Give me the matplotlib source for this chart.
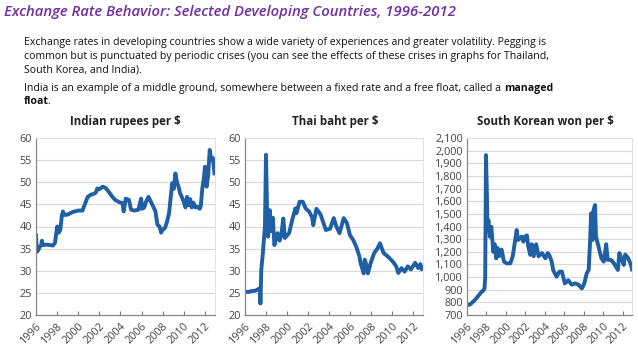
import matplotlib
matplotlib.use("Agg")
import matplotlib.pyplot as plt
from matplotlib.ticker import FuncFormatter
import matplotlib.transforms as mtransforms

# ---------------- data ----------------
india_years = [1996.00, 1996.08, 1996.2, 1996.35, 1996.5, 1996.56, 1996.65, 1997.0, 1997.3, 1997.6,
               1997.8, 1998.0, 1998.15, 1998.3, 1998.45, 1998.55, 1998.7, 1999.0, 1999.5, 2000.0,
               2000.4, 2000.7, 2000.9, 2001.2, 2001.5, 2001.7, 2001.8, 2002.0, 2002.3, 2002.6,
               2002.9, 2003.2, 2003.5, 2003.8, 2004.0, 2004.2, 2004.3, 2004.5, 2004.8, 2005.0,
               2005.3, 2005.7, 2005.95, 2006.05, 2006.25, 2006.4, 2006.65, 2006.9, 2007.1, 2007.3,
               2007.5, 2007.7, 2007.85, 2008.0, 2008.2, 2008.4, 2008.6, 2008.75, 2008.9, 2009.05,
               2009.2, 2009.35, 2009.5, 2009.65, 2009.8, 2010.0, 2010.15, 2010.3, 2010.45, 2010.6,
               2010.75, 2010.9, 2011.1, 2011.3, 2011.5, 2011.6, 2011.75, 2011.9, 2012.0, 2012.15,
               2012.3, 2012.45, 2012.6, 2012.75, 2012.9]
india_vals = [38.0, 34.3, 34.6, 35.4, 35.8, 36.8, 35.8, 35.9, 35.8, 35.7,
              36.3, 40.0, 38.6, 39.2, 42.5, 43.4, 42.6, 42.7, 43.3, 43.6,
              43.6, 45.5, 46.7, 47.2, 47.4, 47.8, 48.6, 48.4, 49.0, 48.7,
              47.8, 46.8, 46.0, 45.6, 45.4, 45.3, 43.4, 46.3, 46.0, 43.8,
              43.6, 43.8, 46.3, 44.0, 44.3, 45.5, 46.7, 45.5, 44.5, 43.5,
              40.4, 40.0, 38.6, 39.3, 39.6, 41.0, 43.0, 46.5, 49.8, 48.5,
              52.0, 50.0, 49.0, 47.5, 46.7, 45.5, 44.3, 46.7, 44.8, 46.2,
              44.3, 45.4, 44.3, 44.5, 44.0, 44.6, 48.6, 51.0, 53.5, 49.0,
              51.5, 57.3, 55.0, 55.5, 52.0]

thai_years = [1996.0, 1996.3, 1996.6, 1997.0, 1997.3, 1997.42, 1997.47, 1997.55, 1997.7, 1997.8,
              1997.9, 1998.0, 1998.1, 1998.2, 1998.35, 1998.5, 1998.65, 1998.8, 1999.1, 1999.3,
              1999.45, 1999.65, 1999.8, 2000.2, 2000.5, 2000.8, 2000.9, 2001.2, 2001.5, 2001.8,
              2002.1, 2002.4, 2002.5, 2002.8, 2003.2, 2003.7, 2004.1, 2004.45, 2004.7, 2005.0,
              2005.4, 2005.7, 2006.0, 2006.3, 2006.6, 2006.9, 2007.0, 2007.3, 2007.4, 2007.6,
              2007.7, 2008.0, 2008.3, 2008.6, 2008.85, 2009.2, 2009.7, 2010.1, 2010.4, 2010.6,
              2010.9, 2011.2, 2011.5, 2011.8, 2012.2, 2012.5, 2012.7, 2012.85]
thai_vals = [25.3, 25.2, 25.4, 25.5, 25.9, 26.0, 22.6, 30.2, 34.0, 37.0,
             40.0, 56.2, 43.7, 37.7, 43.7, 39.0, 42.0, 35.8, 38.5, 36.8,
             38.0, 41.8, 37.4, 38.5, 41.5, 44.1, 43.0, 45.6, 45.6, 44.0,
             43.4, 42.0, 40.3, 44.0, 42.7, 39.2, 39.5, 41.9, 40.0, 38.5,
             41.9, 40.8, 38.0, 37.0, 35.4, 33.2, 31.8, 29.4, 32.5, 31.0,
             29.4, 32.0, 34.0, 35.0, 36.2, 34.0, 33.0, 32.0, 31.0, 29.5,
             30.6, 29.8, 31.0, 30.3, 31.8, 30.6, 31.5, 30.4]

korea_years = [1996.0, 1996.3, 1996.8, 1997.1, 1997.5, 1997.65, 1997.8, 1997.87, 1997.95, 1998.05,
               1998.1, 1998.2, 1998.35, 1998.5, 1998.7, 1998.85, 1999.0, 1999.15, 1999.3, 1999.55,
               1999.8, 2000.1, 2000.45, 2000.7, 2000.95, 2001.1, 2001.25, 2001.6, 2001.8, 2001.95,
               2002.15, 2002.3, 2002.5, 2002.65, 2002.85, 2003.1, 2003.35, 2003.7, 2004.05, 2004.3,
               2004.5, 2004.7, 2004.85, 2005.2, 2005.5, 2005.75, 2006.05, 2006.4, 2006.75, 2007.1,
               2007.45, 2007.8, 2008.05, 2008.3, 2008.5, 2008.65, 2008.75, 2008.9, 2009.0, 2009.15,
               2009.25, 2009.45, 2009.8, 2010.05, 2010.3, 2010.45, 2010.8, 2011.1, 2011.5, 2011.65,
               2011.85, 2012.1, 2012.25, 2012.55, 2012.85, 2012.95]
korea_vals = [780, 782, 818, 845, 884, 890, 910, 1003, 1965, 1636,
              1372, 1450, 1319, 1398, 1200, 1260, 1148, 1230, 1165, 1217,
              1122, 1108, 1108, 1165, 1293, 1372, 1293, 1320, 1280, 1320,
              1330, 1240, 1175, 1260, 1165, 1260, 1165, 1190, 1148, 1190,
              1165, 1122, 1056, 1003, 1043, 1043, 950, 975, 940, 950,
              940, 910, 950, 1030, 1056, 1293, 1504, 1293, 1530, 1570,
              1320, 1260, 1150, 1122, 1260, 1136, 1136, 1108, 1056, 1190,
              1150, 1096, 1178, 1150, 1096, 1060]

year_ticks = [1996, 1998, 2000, 2002, 2004, 2006, 2008, 2010, 2012]
panel_titles = ["Indian rupees per $", "Thai baht per $", "South Korean won per $"]
title_text = "Exchange Rate Behavior: Selected Developing Countries, 1996-2012"
body_lines = [
    "Exchange rates in developing countries show a wide variety of experiences and greater volatility. Pegging is",
    "common but is punctuated by periodic crises (you can see the effects of these crises in graphs for Thailand,",
    "South Korea, and India).",
]

# ---------------- figure ----------------
W, H = 638, 359
fig = plt.figure(figsize=(W / 100, H / 100), dpi=100)
fig.patch.set_facecolor("white")

def fx(px):
    return px / W

def fy(py):
    return 1 - py / H

fam = ["Open Sans", "DejaVu Sans"]
fig.text(fx(4), fy(12), title_text, fontsize=10.7, style="italic", color="#7030a0",
         family=fam, va="center", ha="left", fontweight="semibold")
for i, line in enumerate(body_lines):
    fig.text(fx(24), fy(42 + 14 * i), line, fontsize=7.6, color="#111111",
             family=fam, va="center", ha="left")
t1 = fig.text(fx(24), fy(88),
              "India is an example of a middle ground, somewhere between a fixed rate and a free float, called a ",
              fontsize=7.6, color="#111111", family=fam, va="center", ha="left")
t2 = fig.text(fx(24), fy(101), "float", fontsize=7.6, color="#111111", family=fam,
              va="center", ha="left", fontweight="bold")
fig.canvas.draw()
bb = t1.get_window_extent()
fig.text(bb.x1 / W, fy(88), "managed", fontsize=7.6, color="#111111", family=fam,
         va="center", ha="left", fontweight="bold")
bb2 = t2.get_window_extent()
fig.text((bb2.x1 - 1.5) / W, fy(101), ".", fontsize=7.6, color="#111111", family=fam,
         va="center", ha="left")

panels = [
    (36, 215, india_years, india_vals, (20, 60), list(range(20, 61, 5)), False, 125),
    (245, 423, thai_years, thai_vals, (20, 60), list(range(20, 61, 5)), False, 335),
    (467, 632, korea_years, korea_vals, (700, 2100), list(range(700, 2101, 100)), True, 545),
]
top, bottom = 138, 315
blue = "#1f5fa6"
offset = mtransforms.ScaledTranslation(4 / 100, 0, fig.dpi_scale_trans)
for (l, r, xs, ys, ylim, yt, comma, tcx), ttl in zip(panels, panel_titles):
    ax = fig.add_axes([fx(l), fy(bottom), (r - l) / W, (bottom - top) / H])
    ax.plot(xs, ys, color=blue, lw=2.8, solid_joinstyle="round")
    ax.set_xlim(1996, 2012.95)
    ax.set_ylim(*ylim)
    ax.set_yticks(yt)
    ax.set_xticks(year_ticks)
    ax.set_xticklabels([str(y) for y in year_ticks], rotation=45, ha="right",
                       rotation_mode="anchor", fontsize=7.8, color="#444444", family=fam)
    for lab in ax.get_xticklabels():
        lab.set_transform(lab.get_transform() + offset)
    if comma:
        ax.yaxis.set_major_formatter(FuncFormatter(lambda v, p: f"{int(v):,}"))
    for lab in ax.get_yticklabels():
        lab.set_fontsize(7.8)
        lab.set_color("#444444")
        lab.set_family(fam)
    ax.grid(axis="y", color="#d8d8d8", lw=0.8)
    ax.set_axisbelow(True)
    ax.tick_params(axis="y", length=0, pad=3)
    ax.tick_params(axis="x", length=3, width=0.8, color="#777777", direction="in", pad=4)
    for s in ["top", "right"]:
        ax.spines[s].set_color("#e2e2e2")
        ax.spines[s].set_linewidth(0.8)
    for s in ["left", "bottom"]:
        ax.spines[s].set_color("#888888")
        ax.spines[s].set_linewidth(0.9)
    fig.text(fx(tcx), fy(121), ttl, fontsize=8.3, fontweight="bold", color="#222222",
             family=fam, ha="center", va="center")

fig.savefig("out.png", dpi=100, facecolor="white")
